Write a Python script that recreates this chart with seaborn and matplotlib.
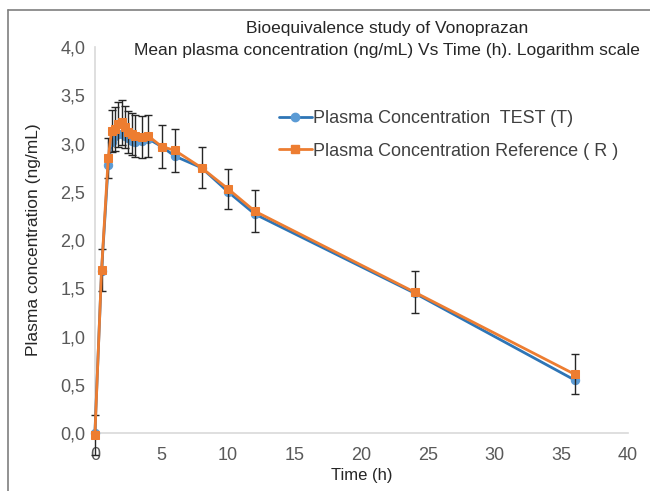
import seaborn as sns
import matplotlib.pyplot as plt
import pandas as pd
from matplotlib.lines import Line2D
from matplotlib.ticker import FuncFormatter, MultipleLocator

# sampling times (h)
time_h = [0, 0.5, 1, 1.25, 1.5, 1.75, 2, 2.25, 2.5, 2.75, 3, 3.5, 4, 5, 6, 8, 10, 12, 24, 36]

# log plasma concentration
conc_test = [0.0, 1.68, 2.78, 3.02, 3.08, 3.10, 3.10, 3.08, 3.06, 3.03, 3.02, 3.03, 3.05,
             2.97, 2.87, 2.75, 2.50, 2.27, 1.45, 0.55]
conc_ref = [-0.02, 1.69, 2.85, 3.13, 3.15, 3.20, 3.22, 3.17, 3.12, 3.10, 3.08, 3.07, 3.08,
            2.97, 2.93, 2.75, 2.53, 2.30, 1.46, 0.61]
conc_err = [0.21, 0.22, 0.21, 0.22, 0.23, 0.23, 0.23, 0.22, 0.22, 0.22, 0.22, 0.22, 0.22,
            0.22, 0.22, 0.21, 0.21, 0.22, 0.22, 0.21]

label_test = "Plasma Concentration  TEST (T)"
label_ref = "Plasma Concentration Reference ( R )"
title_lines = ["Bioequivalence study of Vonoprazan",
               "Mean plasma concentration (ng/mL) Vs Time (h). Logarithm scale"]

df = pd.DataFrame({
    "time": time_h * 2,
    "conc": conc_test + conc_ref,
    "series": [label_test] * len(time_h) + [label_ref] * len(time_h),
})

sns.set_theme(style="white", rc={"figure.figsize": (6.5, 4.91)})
plt.rcParams["font.family"] = ["Liberation Sans", "DejaVu Sans"]

fig = plt.figure(dpi=100)
ax = fig.add_axes([0.146, 0.118, 0.820, 0.786])

blue_line = "#2e75b6"
blue_marker = "#5b9bd5"
orange = "#ed7d31"

sns.lineplot(data=df[df.series == label_test], x="time", y="conc", ax=ax,
             color=blue_line, lw=2.0, marker="o", markersize=6,
             markerfacecolor=blue_marker, markeredgecolor=blue_marker,
             clip_on=False, zorder=3, legend=False)
ax.errorbar(time_h, conc_ref, yerr=conc_err, fmt="none", ecolor="#262626",
            elinewidth=1.0, capsize=3, capthick=1.0, clip_on=False, zorder=4)
sns.lineplot(data=df[df.series == label_ref], x="time", y="conc", ax=ax,
             color=orange, lw=2.0, marker="s", markersize=6,
             markerfacecolor=orange, markeredgecolor=orange,
             clip_on=False, zorder=5, legend=False)

ax.set_xlim(0, 40)
ax.set_ylim(0, 4.0)
ax.xaxis.set_major_locator(MultipleLocator(5))
ax.yaxis.set_major_locator(MultipleLocator(0.5))
ax.yaxis.set_major_formatter(FuncFormatter(lambda v, p: f"{v:.1f}".replace(".", ",")))
ax.tick_params(axis="both", length=0, labelsize=13, labelcolor="#595959")
ax.tick_params(axis="x", pad=10)
ax.tick_params(axis="y", pad=7)

for side in ["top", "right"]:
    ax.spines[side].set_visible(False)
for side in ["left", "bottom"]:
    ax.spines[side].set_color("#d9d9d9")
    ax.spines[side].set_linewidth(1.2)

ax.set_xlabel("Time (h)", fontsize=12, color="#262626", labelpad=3)
ax.set_ylabel("Plasma concentration (ng/mL)", fontsize=12.5, color="#262626", labelpad=14)

fig.text(387 / 650, 1 - 29 / 491, title_lines[0], ha="center", va="center",
         fontsize=12.5, color="#262626")
fig.text(387 / 650, 1 - 50 / 491, title_lines[1], ha="center", va="center",
         fontsize=12.5, color="#262626")

handles = [
    Line2D([], [], color=blue_line, lw=2.0, marker="o", markersize=6,
           markerfacecolor=blue_marker, markeredgecolor=blue_marker),
    Line2D([], [], color=orange, lw=2.0, marker="s", markersize=6,
           markerfacecolor=orange, markeredgecolor=orange),
]
leg = ax.legend(handles, [label_test, label_ref], loc="upper left",
                bbox_to_anchor=(0.315, 0.878), frameon=False, fontsize=13,
                handlelength=1.8, handletextpad=0.1, labelspacing=0.85)
for t in leg.get_texts():
    t.set_color("#404040")

# outer chart border (top and left edges visible)
fig.add_artist(Line2D([8 / 650, 8 / 650], [0, 1 - 10 / 491], color="#7f7f7f", lw=1.2))
fig.add_artist(Line2D([8 / 650, 1], [1 - 10 / 491, 1 - 10 / 491], color="#7f7f7f", lw=1.2))

fig.savefig("out.png", dpi=100)
